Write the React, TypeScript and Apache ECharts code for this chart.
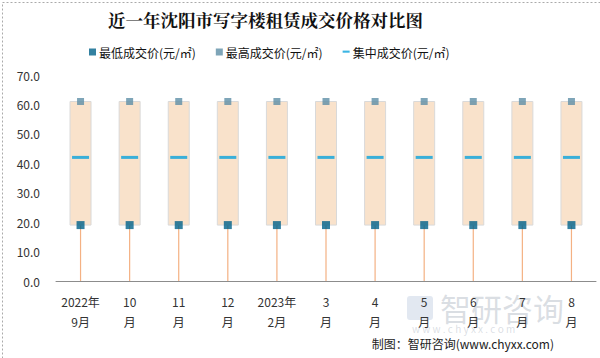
import React, { useEffect, useRef } from "react";
import * as echarts from "echarts";

const categories = ["2022年\n9月", "10\n月", "11\n月", "12\n月", "2023年\n2月", "3\n月", "4\n月", "5\n月", "6\n月", "7\n月", "8\n月"];
const minValues = [19, 19, 19, 19, 19, 19, 19, 19, 19, 19, 19];
const maxValues = [61, 61, 61, 61, 61, 61, 61, 61, 61, 61, 61];
const midValues = [42, 42, 42, 42, 42, 42, 42, 42, 42, 42, 42];
const yTicks = { min: 0, max: 70, interval: 10 };

const nameMin = "最低成交价(元/㎡)";
const nameMax = "最高成交价(元/㎡)";
const nameMid = "集中成交价(元/㎡)";

const FONT = "'Microsoft YaHei', 'Noto Sans CJK SC', sans-serif";

export default function App() {
  const ref = useRef<HTMLDivElement>(null);
  useEffect(() => {
    if (!ref.current) return;
    const chart = echarts.init(ref.current, undefined, { renderer: "svg" });
    const boxData = categories.map((_, i) => [i, minValues[i], maxValues[i]]);
    chart.setOption({
      animation: false,
      backgroundColor: "#ffffff",
      title: {
        text: "近一年沈阳市写字楼租赁成交价格对比图",
        left: 103,
        top: 6,
        textStyle: { fontSize: 17.5, fontWeight: "bold", color: "#111", fontFamily: "'Noto Serif CJK SC', 'Noto Sans CJK SC', serif" },
      },
      legend: {
        left: 84,
        top: 41,
        itemWidth: 7,
        itemHeight: 7,
        itemGap: 20,
        textStyle: { fontSize: 12, color: "#111", fontFamily: FONT, padding: [0, 0, 0, -2] },
        data: [
          { name: nameMin, icon: "rect" },
          { name: nameMax, icon: "rect" },
          { name: nameMid, icon: "path://M0,0M0,3h10v3H0zM10,10" },
        ],
      },
      grid: { left: 56, right: 4, top: 75, bottom: 77 },
      xAxis: {
        type: "category",
        data: categories,
        axisLine: { lineStyle: { color: "#8c8c8c" } },
        axisTick: { show: false },
        axisLabel: { color: "#333", fontSize: 12, fontFamily: FONT, lineHeight: 20, margin: 10, interval: 0 },
      },
      yAxis: {
        type: "value",
        min: yTicks.min,
        max: yTicks.max,
        interval: yTicks.interval,
        splitLine: { show: false },
        axisLine: { show: false },
        axisTick: { show: false },
        axisLabel: { color: "#333", fontSize: 12, fontFamily: FONT, margin: 16, formatter: (v: number) => v.toFixed(1) },
      },
      series: [
        {
          type: "custom",
          name: "box",
          silent: true,
          z: 1,
          data: boxData,
          renderItem: (params: any, api: any) => {
            const idx = api.value(0);
            const lo = api.value(1);
            const hi = api.value(2);
            const pBase = api.coord([idx, 0]);
            const pLo = api.coord([idx, lo]);
            const pHi = api.coord([idx, hi]);
            const w = 21;
            return {
              type: "group",
              children: [
                {
                  type: "line",
                  shape: { x1: pBase[0], y1: pBase[1], x2: pLo[0], y2: pLo[1] },
                  style: { stroke: "#F4B183", lineWidth: 1.2 },
                },
                {
                  type: "rect",
                  shape: { x: pHi[0] - w / 2, y: pHi[1], width: w, height: pLo[1] - pHi[1] },
                  style: { fill: "#F9E2CB", stroke: "#D9D9D9", lineWidth: 1 },
                },
              ],
            };
          },
        },
        {
          type: "scatter",
          name: nameMin,
          data: minValues,
          symbol: "rect",
          symbolSize: 8,
          z: 3,
          itemStyle: { color: "#00628A" },
        },
        {
          type: "scatter",
          name: nameMax,
          data: maxValues,
          symbol: "rect",
          symbolSize: 7,
          z: 3,
          itemStyle: { color: "#5E8FA6" },
        },
        {
          type: "scatter",
          name: nameMid,
          data: midValues,
          symbol: "rect",
          symbolSize: [17, 3],
          z: 3,
          itemStyle: { color: "#0AA3DC" },
        },
      ],
      graphic: [
        {
          type: "text",
          left: 440,
          top: 292,
          z: 0,
          style: { text: "智研咨询", fontSize: 31, fill: "rgba(150,160,175,0.35)", fontFamily: FONT },
        },
        {
          type: "text",
          left: 412,
          top: 323,
          z: 0,
          style: { text: "w w w . c h y x x . c o m", fontSize: 10, fill: "rgba(150,160,175,0.35)", fontFamily: FONT },
        },
        {
          type: "rect",
          left: 407,
          top: 296,
          z: 0,
          shape: { width: 26, height: 24, r: 3 },
          style: { fill: "rgba(160,180,210,0.3)" },
        },
        {
          type: "text",
          right: 46,
          top: 337,
          style: { text: "制图：智研咨询(www.chyxx.com)", fontSize: 12, fill: "#222", fontFamily: FONT, letterSpacing: 0.3 },
        },
        {
          type: "rect",
          left: 0,
          top: 0,
          shape: { x: 0.5, y: 0.5, width: 599, height: 357 },
          style: { fill: "none", stroke: "#aaa", lineWidth: 1, lineDash: [2, 2] },
        },
      ],
    });
    return () => chart.dispose();
  }, []);
  return <div ref={ref} style={{ position: "absolute", left: 0, top: 0, width: 600, height: 358 }} />;
}
